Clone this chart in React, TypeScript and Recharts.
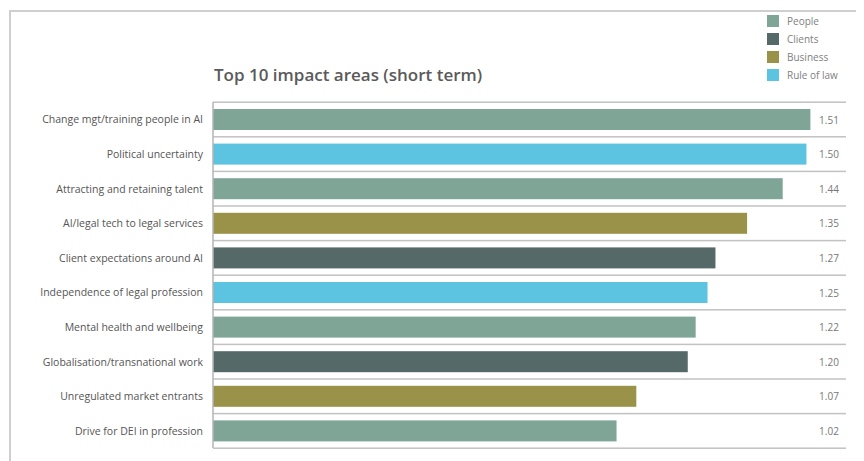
import { Bar, BarChart, Cell, LabelList, XAxis, YAxis } from 'recharts';

const areas = [
  'Change mgt/training people in AI',
  'Political uncertainty',
  'Attracting and retaining talent',
  'AI/legal tech to legal services',
  'Client expectations around AI',
  'Independence of legal profession',
  'Mental health and wellbeing',
  'Globalisation/transnational work',
  'Unregulated market entrants',
  'Drive for DEI in profession',
];

const scores = [1.51, 1.5, 1.44, 1.35, 1.27, 1.25, 1.22, 1.2, 1.07, 1.02];

const groups = ['People', 'Rule of law', 'People', 'Business', 'Clients', 'Rule of law', 'People', 'Clients', 'Business', 'People'];

const legendNames = ['People', 'Clients', 'Business', 'Rule of law'];

const colors: Record<string, string> = {
  People: '#7fa597',
  Clients: '#556a68',
  Business: '#9a9248',
  'Rule of law': '#5cc3e0',
};

const data = areas.map((name, i) => ({
  name,
  value: scores[i],
  group: groups[i],
  label: scores[i].toFixed(2),
}));

const FONT = '"Open Sans", sans-serif';
const W = 856;
const H = 453;
const M = { top: 94, right: 18, left: 5, bottom: 13 };
const AXIS_W = 200;
const PLOT_LEFT = M.left + AXIS_W;
const PLOT_RIGHT = W - M.right;
const BAND = (H - M.top - M.bottom) / areas.length;
const BAR = 21;
const SEP = '#c2c2c2';

// bar plus the grey separator rows on the band edges
function BarWithRules(props: any) {
  const { x, y, width, height, fill, index } = props;
  const gap = (BAND - BAR) / 2;
  const top = y - gap;
  const bottom = y + height + gap;
  return (
    <g>
      <rect x={PLOT_LEFT} y={top - 0.75} width={PLOT_RIGHT - PLOT_LEFT} height={1.5} fill={SEP} />
      {index === areas.length - 1 && (
        <rect x={PLOT_LEFT} y={bottom - 0.75} width={PLOT_RIGHT - PLOT_LEFT} height={1.5} fill={SEP} />
      )}
      <rect x={x} y={y} width={width} height={height} fill={fill} />
    </g>
  );
}

function ValueLabel(props: any) {
  const { y, height, value } = props;
  return (
    <text
      x={PLOT_RIGHT - 17}
      y={y + height / 2}
      textAnchor="middle"
      dominantBaseline="central"
      fontFamily={FONT}
      fontSize={10}
      fill="#777"
    >
      {value}
    </text>
  );
}

function AreaTick(props: any) {
  const { x, y, payload } = props;
  return (
    <text x={x} y={y} textAnchor="end" dominantBaseline="central" fontFamily={FONT} fontSize={10.5} fill="#555">
      {payload.value}
    </text>
  );
}

function LegendBox() {
  return (
    <div style={{ fontFamily: FONT, fontSize: 10, color: '#808080' }}>
      {legendNames.map((n) => (
        <div key={n} style={{ display: 'flex', alignItems: 'center', height: 18 }}>
          <span style={{ width: 12, height: 12, background: colors[n], marginRight: 8, display: 'inline-block' }} />
          <span>{n}</span>
        </div>
      ))}
    </div>
  );
}

export default function App() {
  return (
    <div style={{ position: 'relative', width: W, height: H, overflow: 'hidden' }}>
      <div
        style={{
          position: 'absolute',
          left: 1,
          top: 2,
          width: 900,
          height: 500,
          border: '2px solid #cfcfcf',
        }}
      />
      <div
        style={{
          position: 'absolute',
          left: 206,
          top: 55,
          fontFamily: FONT,
          fontWeight: 600,
          fontSize: 17,
          color: '#5a5a5a',
          whiteSpace: 'nowrap',
        }}
      >
        Top 10 impact areas (short term)
      </div>
      <div style={{ position: 'absolute', left: 759, top: 4 }}>
        <LegendBox />
      </div>
      <div style={{ position: 'absolute', left: 0, top: 0 }}>
        <BarChart width={W} height={H} data={data} layout="vertical" margin={M}>
          <XAxis type="number" domain={[0, 1.6]} hide />
          <YAxis
            type="category"
            dataKey="name"
            width={AXIS_W}
            tickSize={0}
            tickMargin={10}
            axisLine={{ stroke: '#b5b5b5', strokeWidth: 1.5 }}
            tickLine={false}
            tick={<AreaTick />}
            interval={0}
          />
          <Bar dataKey="value" barSize={BAR} shape={<BarWithRules />} isAnimationActive={false}>
            {data.map((d) => (
              <Cell key={d.name} fill={colors[d.group]} />
            ))}
            <LabelList dataKey="label" content={<ValueLabel />} />
          </Bar>
        </BarChart>
      </div>
    </div>
  );
}
